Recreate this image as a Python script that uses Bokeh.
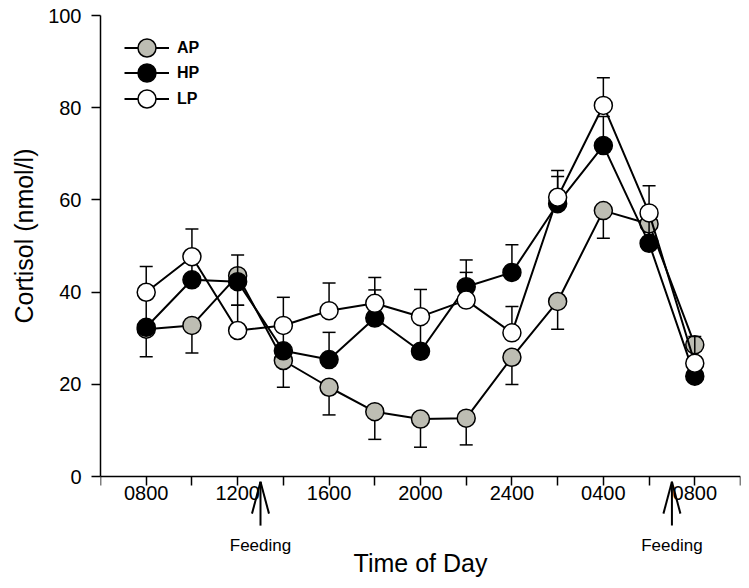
from bokeh.plotting import figure
from bokeh.models import Range1d, FixedTicker, Legend, LegendItem, Title
from bokeh.core.properties import value
from bokeh.embed import file_html
from bokeh.resources import INLINE

# ---- data ----
times = ["0800", "1000", "1200", "1400", "1600", "1800", "2000",
         "2200", "2400", "0200", "0400", "0600", "0800"]
ap = [32.0, 32.8, 43.6, 25.2, 19.4, 14.1, 12.5, 12.7, 25.9, 38.0, 57.7, 54.8, 28.6]
ap_se = [6.0, 6.0, 6.4, 5.8, 6.0, 6.0, 6.1, 5.8, 5.9, 6.0, 6.0, 4.0, 4.0]
hp = [32.4, 42.7, 42.3, 27.3, 25.4, 34.4, 27.2, 41.2, 44.3, 59.2, 71.8, 50.6, 21.8]
hp_se = [7.0, 5.0, 5.8, 5.5, 5.9, 6.1, 7.0, 5.8, 6.0, 5.9, 6.3, 5.5, 3.0]
lp = [40.0, 47.7, 31.7, 32.8, 36.0, 37.6, 34.7, 38.3, 31.2, 60.6, 80.5, 57.2, 24.6]
lp_se = [5.6, 6.0, 5.5, 6.1, 6.0, 5.6, 5.9, 6.0, 5.7, 5.8, 6.0, 5.9, 5.8]
feeding_idx = [2.5, 11.5]   # 1300 and 0700
feeding_text = ["Feeding", "Feeding"]

FONT = "Liberation Sans"
GRAY = "#bdbdb3"

x = list(range(len(times)))

p = figure(width=741, height=580, output_backend="svg", toolbar_location=None,
           x_range=Range1d(-1, 13), y_range=Range1d(-22.5, 100),
           min_border_left=99, min_border_right=1, min_border_top=15,
           min_border_bottom=0)
p.outline_line_color = None
p.xgrid.visible = False
p.ygrid.visible = False
p.background_fill_color = "white"
p.border_fill_color = "white"

# axes
for ax in (p.xaxis[0], p.yaxis[0]):
    ax.axis_line_width = 1.5
    ax.axis_line_color = "black"
    ax.major_tick_line_width = 1.5
    ax.major_tick_line_color = "black"
    ax.major_tick_in = 0
    ax.major_tick_out = 9
    ax.minor_tick_line_color = None
    ax.major_label_text_font = FONT
    ax.major_label_text_font_size = "20px"
    ax.major_label_text_color = "black"
    ax.axis_label_text_font = FONT
    ax.axis_label_text_font_size = "25px"
    ax.axis_label_text_font_style = "normal"
    ax.axis_label_text_color = "black"

p.xaxis.fixed_location = 0
p.xaxis.ticker = FixedTicker(ticks=list(range(-1, 14)))
overrides = {i: "" for i in range(-1, 14)}
for i, t in enumerate(times):
    if i % 2 == 0:
        overrides[i] = t
p.xaxis.major_label_overrides = overrides
p.xaxis.major_label_standoff = 0
p.xaxis.axis_label = "Time of Day"
p.xaxis.axis_label_standoff = 46

p.yaxis.bounds = (0, 100)
p.yaxis.ticker = FixedTicker(ticks=[0, 20, 40, 60, 80, 100])
p.yaxis.major_label_standoff = 10

# y axis title, positioned alongside the 0-100 span
p.add_layout(Title(text="Cortisol (nmol/l)", align="right", offset=133,
                   text_font=FONT, text_font_size="25px",
                   text_font_style="normal", text_color="black",
                   standoff=15), "left")


def series(vals, se, fill, direction):
    if direction == "down":
        tip = [v - s for v, s in zip(vals, se)]
    else:
        tip = [v + s for v, s in zip(vals, se)]
    p.segment(x0=x, y0=vals, x1=x, y1=tip, line_color="black", line_width=1.5)
    p.scatter(x=x, y=tip, marker="dash", size=13, line_color="black", line_width=1.5)
    ln = p.line(x=x, y=vals, line_color="black", line_width=2)
    cr = p.scatter(x=x, y=vals, marker="circle", size=18, fill_color=fill,
                   line_color="black", line_width=1.5)
    return ln, cr


ap_r = series(ap, ap_se, GRAY, "down")
hp_r = series(hp, hp_se, "black", "up")
lp_r = series(lp, lp_se, "white", "up")

# one legend box per entry (rows 25-26 px apart, 18 px markers)
for label, rends, vy in (("AP", ap_r, 510), ("HP", hp_r, 485), ("LP", lp_r, 459)):
    lg = Legend(items=[LegendItem(label=label, renderers=list(rends))],
                location=(24, vy), margin=0, padding=0, spacing=0,
                glyph_width=45, glyph_height=45, label_standoff=8,
                label_text_font=FONT, label_text_font_size="16px",
                label_text_font_style="bold", label_text_color="black",
                border_line_color=None, background_fill_alpha=0)
    p.add_layout(lg)

# feeding arrows (shaft + open head) and labels
tip_y = -1.1
p.segment(x0=feeding_idx, y0=[-10.6] * 2, x1=feeding_idx, y1=[tip_y] * 2,
          line_color="black", line_width=2)
p.segment(x0=[f - 0.186 for f in feeding_idx], y0=[-8.0] * 2,
          x1=feeding_idx, y1=[tip_y] * 2, line_color="black", line_width=2)
p.segment(x0=[f + 0.186 for f in feeding_idx], y0=[-8.0] * 2,
          x1=feeding_idx, y1=[tip_y] * 2, line_color="black", line_width=2)
p.text(x=feeding_idx, y=[-15.0] * 2, text=feeding_text, text_font=value(FONT),
       text_font_size="17px", text_align="center", text_baseline="alphabetic",
       text_color="black")

open("out.html", "w").write(file_html(p, INLINE))
